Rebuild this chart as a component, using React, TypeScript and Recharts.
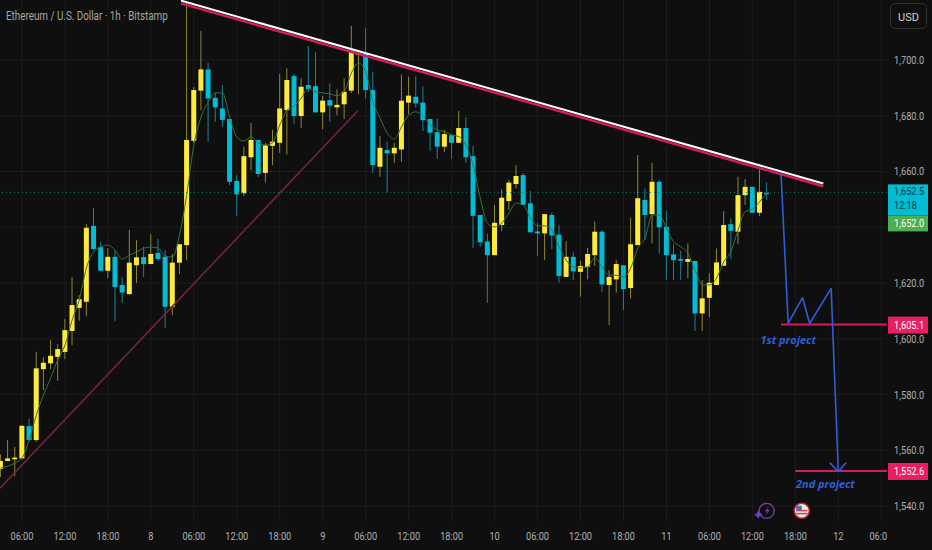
import React from 'react';
import { ComposedChart, Bar, Line, XAxis, YAxis, CartesianGrid, ReferenceLine, ReferenceDot } from 'recharts';

// hourly candles, first one is three hours before the 06:00 tick
const opens = [
  1553.3, 1556.2, 1556.8, 1557.1, 1568.7, 1563.7, 1589.1, 1591.2, 1593.5, 1595.3, 1602.8, 1611.1,
  1613.3, 1640.5, 1632.9, 1624.4, 1629.4, 1619.3, 1616.0, 1626.4, 1629.3, 1626.8, 1630.8, 1629.4,
  1611.5, 1627.3, 1633.6, 1671.0, 1689.0, 1696.6, 1686.4, 1682.6, 1678.8, 1656.6, 1652.2, 1665.1,
  1671.3, 1659.5, 1669.2, 1670.3, 1682.0, 1694.2, 1679.9, 1691.0, 1690.6, 1681.2, 1685.6, 1683.0,
  1684.1, 1689.0, 1701.8, 1702.4, 1689.2, 1661.7, 1667.7, 1666.5, 1667.9, 1684.7, 1686.8, 1684.7,
  1678.8, 1674.1, 1668.9, 1673.0, 1670.3, 1675.6, 1665.5, 1644.4, 1634.9, 1630.0, 1640.8, 1649.4,
  1655.5, 1658.7, 1648.6, 1638.5, 1637.8, 1644.4, 1637.4, 1622.2, 1629.4, 1624.0, 1625.8, 1630.0,
  1638.4, 1619.3, 1621.3, 1626.4, 1618.2, 1633.6, 1649.8, 1644.7, 1656.3, 1640.2, 1630.3, 1628.6,
  1627.6, 1627.9, 1609.1, 1614.7, 1619.3, 1626.2, 1641.1, 1638.4, 1651.5, 1654.5, 1645.2, 1652.4,
];
const closes = [
  1556.2, 1557.1, 1557.4, 1568.8, 1563.7, 1589.4, 1591.4, 1593.9, 1596.3, 1603.1, 1612.1, 1614.2,
  1639.8, 1632.2, 1624.4, 1629.4, 1618.6, 1616.6, 1627.3, 1629.2, 1626.8, 1630.4, 1628.6, 1611.5,
  1627.3, 1633.9, 1671.3, 1689.2, 1696.6, 1686.2, 1683.0, 1678.5, 1656.3, 1651.8, 1665.5, 1671.3,
  1659.1, 1669.4, 1670.7, 1682.6, 1692.8, 1679.9, 1690.4, 1689.6, 1681.2, 1685.4, 1683.6, 1683.9,
  1688.6, 1703.2, 1702.4, 1689.2, 1662.3, 1668.5, 1666.5, 1668.5, 1685.4, 1687.2, 1684.4, 1678.4,
  1673.9, 1668.9, 1673.4, 1670.3, 1675.6, 1665.1, 1644.1, 1634.6, 1630.0, 1641.6, 1650.6, 1656.0,
  1658.4, 1648.0, 1638.2, 1637.8, 1644.7, 1637.1, 1622.5, 1629.4, 1624.2, 1626.1, 1630.4, 1638.4,
  1619.5, 1622.2, 1626.8, 1617.8, 1633.9, 1650.4, 1644.4, 1656.3, 1640.0, 1630.0, 1628.2, 1628.0,
  1628.6, 1609.1, 1614.5, 1620.1, 1627.4, 1640.8, 1638.7, 1651.5, 1654.5, 1645.2, 1652.7, 1652.1,
];
const highs = [
  1558.6, 1563.7, 1561.2, 1569.0, 1571.2, 1595.3, 1593.4, 1599.5, 1598.1, 1607.1, 1622.1, 1615.7,
  1641.1, 1646.9, 1634.8, 1632.5, 1631.8, 1622.1, 1639.0, 1635.4, 1633.0, 1637.5, 1635.8, 1631.8,
  1630.4, 1634.0, 1720.4, 1690.3, 1710.4, 1699.0, 1688.1, 1691.0, 1678.8, 1658.7, 1668.9, 1677.4,
  1671.3, 1670.2, 1674.9, 1695.0, 1697.0, 1695.0, 1693.4, 1705.0, 1702.7, 1687.1, 1691.6, 1689.5,
  1693.5, 1712.2, 1703.0, 1711.5, 1695.8, 1672.8, 1670.7, 1670.3, 1694.8, 1694.0, 1694.2, 1690.4,
  1678.8, 1679.1, 1674.9, 1673.4, 1681.7, 1679.4, 1669.2, 1644.4, 1637.8, 1648.0, 1653.6, 1656.9,
  1662.3, 1659.5, 1653.0, 1641.6, 1644.7, 1645.3, 1640.8, 1635.0, 1631.2, 1628.0, 1632.6, 1642.0,
  1639.0, 1624.6, 1628.2, 1626.4, 1643.5, 1665.9, 1653.9, 1663.1, 1656.9, 1645.8, 1633.9, 1631.6,
  1634.2, 1627.9, 1621.1, 1623.5, 1632.4, 1645.8, 1643.2, 1658.1, 1657.3, 1654.5, 1660.8, 1656.1,
];
const lows = [
  1550.4, 1556.1, 1550.7, 1556.8, 1563.4, 1563.0, 1581.6, 1589.1, 1584.9, 1592.7, 1597.7, 1606.5,
  1608.1, 1631.8, 1624.4, 1621.8, 1606.3, 1612.9, 1616.0, 1620.0, 1622.2, 1626.8, 1627.9, 1603.9,
  1608.5, 1623.2, 1628.2, 1670.2, 1682.0, 1670.7, 1677.8, 1676.0, 1655.1, 1644.0, 1651.3, 1660.5,
  1658.0, 1656.0, 1662.3, 1666.7, 1666.1, 1677.0, 1675.7, 1688.6, 1681.2, 1675.2, 1677.8, 1680.2,
  1678.8, 1688.1, 1687.8, 1686.2, 1659.5, 1658.1, 1652.5, 1663.1, 1663.5, 1680.6, 1683.0, 1674.5,
  1667.4, 1664.5, 1666.9, 1664.5, 1670.3, 1663.1, 1632.6, 1633.0, 1612.9, 1630.0, 1638.6, 1646.2,
  1653.9, 1648.0, 1638.2, 1629.8, 1628.2, 1632.2, 1620.1, 1622.2, 1621.1, 1615.1, 1621.3, 1626.1,
  1616.9, 1604.9, 1616.5, 1610.3, 1614.5, 1633.6, 1635.4, 1634.2, 1630.6, 1621.1, 1621.1, 1621.1,
  1621.7, 1602.8, 1602.8, 1607.7, 1619.3, 1626.2, 1628.6, 1634.0, 1648.0, 1645.2, 1644.0, 1649.8,
];
const average = [
  1553.6, 1554.3, 1555.4, 1557.2, 1563.7, 1572.6, 1579.8, 1585.9, 1592.4, 1597.7, 1606.7, 1613.9,
  1625.4, 1631.1, 1632.9, 1633.6, 1631.8, 1628.6, 1630.0, 1631.1, 1632.5, 1632.9, 1632.5, 1629.7,
  1629.3, 1637.2, 1651.5, 1669.5, 1679.5, 1684.9, 1688.2, 1688.2, 1679.6, 1672.4, 1670.9, 1672.4,
  1670.2, 1669.5, 1670.3, 1676.7, 1682.0, 1683.5, 1686.3, 1689.9, 1688.6, 1688.2, 1687.8, 1687.2,
  1688.6, 1695.3, 1698.9, 1695.8, 1685.0, 1679.2, 1673.8, 1671.6, 1676.0, 1680.2, 1681.4, 1679.9,
  1676.7, 1674.9, 1674.3, 1673.1, 1672.5, 1669.5, 1662.3, 1650.5, 1641.5, 1640.1, 1641.5, 1645.1,
  1648.7, 1648.0, 1643.3, 1640.5, 1640.5, 1639.0, 1633.0, 1628.2, 1625.8, 1625.4, 1625.8, 1629.1,
  1625.8, 1622.8, 1622.8, 1622.2, 1625.3, 1632.5, 1636.0, 1644.4, 1644.4, 1639.7, 1634.8, 1633.0,
  1630.7, 1624.6, 1619.3, 1619.3, 1621.8, 1627.6, 1631.2, 1639.0, 1645.6, 1646.5, 1649.1, 1652.3,
];

const timeTicks = [0, 6, 12, 18, 24, 30, 36, 42, 48, 54, 60, 66, 72, 78, 84, 90, 96, 102, 108, 114, 120];
const timeLabels = ['06:00', '12:00', '18:00', '8', '06:00', '12:00', '18:00', '9', '06:00', '12:00', '18:00', '10', '06:00', '12:00', '18:00', '11', '06:00', '12:00', '18:00', '12', '06:0'];
const gridPrices = [1700, 1680, 1660, 1640, 1620, 1600, 1580, 1560, 1540];
const priceLabels = [1700, 1680, 1660, 1620, 1600, 1580, 1560, 1540];
const lastPrice = 1652.5;
const firstTarget = 1605.1;
const secondTarget = 1552.6;

const supportLine = [{ x: -3.07, y: 1546.4 }, { x: 46.9, y: 1681.8 }];
const resistanceWhite = [{ x: 22.2, y: 1721.3 }, { x: 111.9, y: 1655.7 }];
const resistancePink = [{ x: 22.2, y: 1720.3 }, { x: 111.9, y: 1654.7 }];
const projection = [
  { x: 106, y: 1659.4 }, { x: 107, y: 1605.5 }, { x: 109, y: 1614.8 }, { x: 110, y: 1605.5 },
  { x: 113, y: 1618.1 }, { x: 114, y: 1552.3 },
];
const arrowHead = [{ x: 112.8, y: 1555.6 }, { x: 114, y: 1552.3 }, { x: 115.1, y: 1555.6 }];

const rows = opens.map((open, i) => ({
  hour: i - 3,
  open,
  close: closes[i],
  high: highs[i],
  low: lows[i],
  range: [lows[i], highs[i]],
  average: average[i],
}));

const UP = '#ffeb3b';
const DOWN = '#00bcd4';
const BLUE = '#2f5fd6';
const PINK = '#d81b60';
const AXIS_TEXT = '#b0b0b0';
const FONT = 'Roboto, sans-serif';

const Candle = (props: any) => {
  const { x, y, width, height, payload } = props;
  const up = payload.close >= payload.open;
  const unit = height / (payload.high - payload.low);
  const top = y + (payload.high - Math.max(payload.open, payload.close)) * unit;
  const bodyH = Math.max(Math.abs(payload.close - payload.open) * unit, 1.5);
  const mid = x + width / 2;
  return (
    <g>
      <line x1={mid} x2={mid} y1={y} y2={y + height} stroke={up ? '#8f8735' : '#1b8496'} strokeWidth={1} />
      <rect x={x} y={top} width={width} height={bodyH} fill={up ? UP : DOWN} />
    </g>
  );
};

const squeezed = (x: number, y: number, text: string, fill: string, weight = 400) => (
  <text
    transform={`translate(${x} ${y}) scale(0.8 1)`}
    fontFamily={FONT}
    fontSize={11.5}
    fontWeight={weight}
    fill={fill}
  >
    {text}
  </text>
);

const PriceTick = (props: any) => {
  const { y, payload } = props;
  const left = 888;
  const textX = 894;
  const v = payload.value;
  const label = v.toLocaleString('en-US', { minimumFractionDigits: 1, maximumFractionDigits: 1 });
  if (v === lastPrice) {
    return (
      <g>
        <rect x={left} y={y - 8} width={40} height={31} fill="#00bcd4" />
        <rect x={left} y={y + 23} width={40} height={16} fill="#4caf50" />
        {squeezed(textX, y + 3, label, '#0b3a44')}
        {squeezed(textX, y + 17, '12:18', '#0b3a44')}
        {squeezed(textX, y + 35, '1,652.0', '#ffffff')}
      </g>
    );
  }
  if (v === firstTarget || v === secondTarget) {
    return (
      <g>
        <rect x={left} y={y - 8} width={40} height={17} fill="#e91e63" />
        {squeezed(textX, y + 4, label, '#ffffff')}
      </g>
    );
  }
  return <g>{squeezed(textX, y + 4, label, AXIS_TEXT)}</g>;
};

const TimeTick = (props: any) => {
  const { x, payload } = props;
  const label = timeLabels[timeTicks.indexOf(payload.value)];
  const dx = label === '06:0' ? -3 : 0;
  return (
    <text
      transform={`translate(${x + dx} 540) scale(0.8 1)`}
      textAnchor="middle"
      fontFamily={FONT}
      fontSize={11.5}
      fill={AXIS_TEXT}
    >
      {label}
    </text>
  );
};

const BoltIcon = (props: any) => {
  const { cx, cy } = props;
  return (
    <g>
      <circle cx={cx} cy={cy} r={7.5} fill="none" stroke="#7b3fa8" strokeWidth={1.3} />
      <path d={`M${cx + 2} ${cy - 4.5} L${cx - 2} ${cy + 0.5} H${cx + 0.5} L${cx - 1} ${cy + 4.5} L${cx + 3} ${cy - 1} H${cx + 0.5} Z`} fill="#7b3fa8" />
      <path d={`M${cx - 8.5} ${cy - 0.5} L${cx - 7} ${cy + 2.5} L${cx - 4} ${cy + 4} L${cx - 7} ${cy + 5.5} L${cx - 8.5} ${cy + 8} L${cx - 10} ${cy + 5.5} L${cx - 12.5} ${cy + 4} L${cx - 10} ${cy + 2.5} Z`} fill="#6a3fd0" />
    </g>
  );
};

const FlagIcon = (props: any) => {
  const { cx, cy } = props;
  return (
    <g>
      <circle cx={cx} cy={cy} r={7.5} fill="#e8e8e8" stroke="#c62828" strokeWidth={1.5} />
      <rect x={cx - 5.5} y={cy - 1} width={11} height={1.5} fill="#d84040" />
      <rect x={cx - 5.5} y={cy + 2} width={11} height={1.5} fill="#d84040" />
      <rect x={cx - 5.5} y={cy - 5} width={5.5} height={4.5} fill="#3f6fc4" />
    </g>
  );
};

const App = () => {
  return (
    <div style={{ position: 'absolute', left: 0, top: 0, width: 932, height: 550, background: '#0f0f0f', overflow: 'hidden' }}>
      <ComposedChart
        width={932}
        height={550}
        data={rows}
        margin={{ top: 0, right: 0, left: 0, bottom: 0 }}
      >
        <CartesianGrid stroke="#1d1d1d" horizontalValues={gridPrices} verticalValues={timeTicks} />
        <XAxis
          dataKey="hour"
          type="number"
          domain={[-3.07, 120.8]}
          allowDataOverflow
          ticks={timeTicks}
          interval={0}
          height={28}
          axisLine={false}
          tickLine={false}
          tick={<TimeTick />}
        />
        <YAxis
          orientation="right"
          width={45}
          domain={[1534.3, 1721.5]}
          allowDataOverflow
          ticks={[...priceLabels, lastPrice, firstTarget, secondTarget]}
          interval={0}
          axisLine={false}
          tickLine={false}
          tick={<PriceTick />}
        />
        <ReferenceLine y={lastPrice} stroke="#1f7a6c" strokeDasharray="1 3" />
        <Bar dataKey="range" barSize={5} shape={<Candle />} isAnimationActive={false} />
        <Line dataKey="average" type="monotone" stroke="#39713f" strokeWidth={1} dot={false} activeDot={false} isAnimationActive={false} />
        <ReferenceLine segment={supportLine} stroke="#722342" strokeWidth={1.6} />
        <ReferenceLine segment={resistancePink} stroke={PINK} strokeWidth={2.4} />
        <ReferenceLine segment={resistanceWhite} stroke="#ffffff" strokeWidth={2} />
        <ReferenceLine segment={[{ x: 106, y: firstTarget }, { x: 120.8, y: firstTarget }]} stroke={PINK} strokeWidth={2} />
        <ReferenceLine segment={[{ x: 108, y: secondTarget }, { x: 120.8, y: secondTarget }]} stroke={PINK} strokeWidth={2} />
        {projection.slice(1).map((p, i) => (
          <ReferenceLine key={i} segment={[projection[i], p]} stroke={BLUE} strokeWidth={1.6} />
        ))}
        {arrowHead.slice(1).map((p, i) => (
          <ReferenceLine key={i} segment={[arrowHead[i], p]} stroke={BLUE} strokeWidth={1.6} />
        ))}
        <ReferenceDot
          x={107}
          y={1599.5}
          r={0}
          stroke="none"
          label={{ value: '1st project', fill: BLUE, fontSize: 11, fontStyle: 'italic', fontWeight: 700, fontFamily: 'Open Sans, sans-serif' }}
        />
        <ReferenceDot
          x={112.2}
          y={1548}
          r={0}
          stroke="none"
          label={{ value: '2nd project', fill: BLUE, fontSize: 11, fontStyle: 'italic', fontWeight: 700, fontFamily: 'Open Sans, sans-serif' }}
        />
        <ReferenceDot x={104} y={1538.3} shape={<BoltIcon />} />
        <ReferenceDot x={108.9} y={1538.3} shape={<FlagIcon />} />
      </ComposedChart>
      <div style={{ position: 'absolute', left: 6, top: 9, fontFamily: FONT, fontSize: 12, color: '#a6a6a6', whiteSpace: 'nowrap', transform: 'scaleX(0.82)', transformOrigin: 'left' }}>
        Ethereum / U.S. Dollar · 1h · Bitstamp
      </div>
      <div style={{ position: 'absolute', left: 890, top: 3, width: 37, height: 26, border: '1px solid #303030', borderRadius: 5, fontFamily: FONT, fontSize: 11, color: '#d0d0d0', lineHeight: '27px', paddingLeft: 7, boxSizing: 'border-box' }}>
        USD
      </div>
    </div>
  );
};

export default App;
